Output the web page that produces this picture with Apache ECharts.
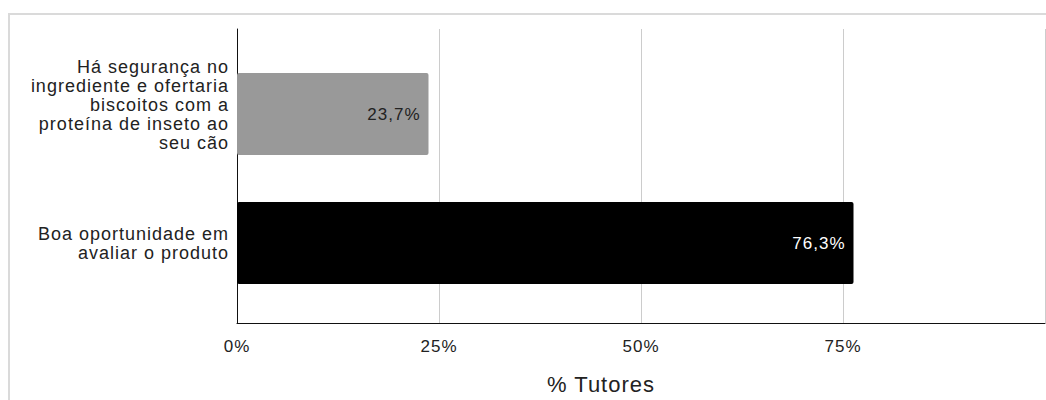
<!DOCTYPE html>
<html><head><meta charset="utf-8">
<script src="https://cdn.jsdelivr.net/npm/echarts@6/dist/echarts.min.js"></script>
<style>
html,body{margin:0;padding:0;background:#fff;overflow:hidden}
#frame{position:absolute;left:8px;top:13px;width:1100px;height:500px;border:2px solid #dadada;box-sizing:border-box}
#chart{position:absolute;left:0;top:0;width:1046px;height:400px}
#chart text{letter-spacing:1px}
</style></head><body>
<div id="frame"></div>
<div id="chart"></div>
<script>
const categories = [
  'Há segurança no\ningrediente e ofertaria\nbiscoitos com a\nproteína de inseto ao\nseu cão',
  'Boa oportunidade em\navaliar o produto'
];
const values = [23.7, 76.3];
const barColors = ['#999999', '#000000'];
const labelColors = ['#222222', '#ffffff'];
const axisMin = 0, axisMax = 100, axisStep = 25;
const axisTitle = '% Tutores';

const fmtPct = v => String(Number(v).toFixed(1)).replace('.', ',') + '%';
const FONT = '"Liberation Sans", Arial, sans-serif';

const chart = echarts.init(document.getElementById('chart'), null, {renderer: 'svg'});
chart.setOption({
  backgroundColor: 'transparent',
  animation: false,
  textStyle: {fontFamily: FONT},
  grid: [
    {left: 237, right: 1, top: 49.5, bottom: 92.5, containLabel: false},
    {left: 237, right: 1, top: 29, bottom: 73, containLabel: false}
  ],
  xAxis: [
    {gridIndex: 0, type: 'value', min: axisMin, max: axisMax, interval: axisStep, show: false},
    {gridIndex: 1, type: 'value', min: axisMin, max: axisMax, interval: axisStep,
     axisLine: {show: true, onZero: false, lineStyle: {color: '#111', width: 1}},
     axisTick: {show: false},
     splitLine: {show: true, lineStyle: {color: '#cccccc', width: 1}},
     axisLabel: {show: true, showMaxLabel: false, margin: 15, color: '#222', fontSize: 17,
       fontFamily: FONT, formatter: v => v + '%'},
     name: axisTitle, nameLocation: 'middle', nameGap: 50,
     nameTextStyle: {color: '#222', fontSize: 22, fontFamily: FONT, padding: [0, 80, 0, 0]}
    }
  ],
  yAxis: [
    {gridIndex: 0, type: 'category', data: categories, inverse: true,
     axisLine: {show: false}, axisTick: {show: false}, splitLine: {show: false},
     axisLabel: {margin: 8, color: '#222', fontSize: 18, lineHeight: 19, align: 'right',
       fontFamily: FONT,
       formatter: (v, i) => (v.split('\n').length > 2 ? v + '\n ' : v)}
    },
    {gridIndex: 1, type: 'value', min: 0, max: 1,
     axisLine: {show: true, lineStyle: {color: '#111', width: 1}},
     axisTick: {show: false}, axisLabel: {show: false}, splitLine: {show: false}
    }
  ],
  series: [{
    type: 'bar', xAxisIndex: 0, yAxisIndex: 0,
    barWidth: 82,
    data: values.map((v, i) => ({value: v, itemStyle: {color: barColors[i]}, label: {color: labelColors[i]}})),
    itemStyle: {borderRadius: 2},
    label: {show: true, position: 'insideRight', distance: 8, fontSize: 17,
      fontFamily: FONT, formatter: p => fmtPct(p.value)}
  }]
});
</script>
</body></html>
